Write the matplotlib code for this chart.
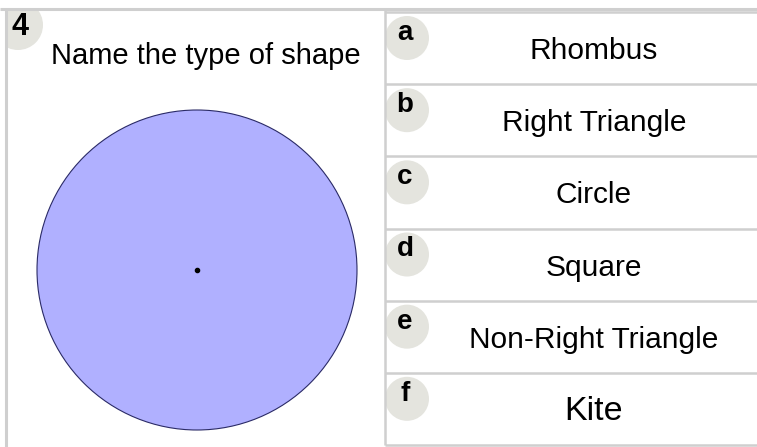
import matplotlib
matplotlib.use("Agg")
import matplotlib.pyplot as plt
from matplotlib.patches import Circle, Rectangle

plt.rcParams['font.family'] = ['Liberation Sans', 'DejaVu Sans']

question_number = "4"
question_text = "Name the type of shape"
letters = ["a", "b", "c", "d", "e", "f"]
options = ["Rhombus", "Right Triangle", "Circle", "Square", "Non-Right Triangle", "Kite"]
option_sizes = [21.5, 21.5, 21.5, 21.5, 21.5, 24.5]

W, H = 757, 447
line_col = "#cfcfcf"
badge_col = "#e4e4de"

fig = plt.figure(figsize=(W / 100, H / 100), dpi=100)
ax = fig.add_axes([0, 0, 1, 1])
ax.set_xlim(0, W)
ax.set_ylim(H, 0)
ax.axis("off")

# left panel
left, top, split = 5.5, 8.5, 385
panel = Rectangle((left, top), split - left, H - top, facecolor="white", edgecolor="none")
ax.add_patch(panel)
badge = Circle((18, 25), 25, facecolor=badge_col, edgecolor="none")
ax.add_patch(badge)
badge.set_clip_path(panel)
ax.text(20, 27, question_number, ha="center", va="center", fontsize=22, fontweight="bold")
ax.text(206, 56, question_text, ha="center", va="center", fontsize=21)

shape = Circle((197, 270), 160, facecolor="#b0b0ff", edgecolor="#2a2a66", linewidth=0.8)
ax.add_patch(shape)
ax.plot(197, 270, "o", color="black", markersize=3)

# outer borders
ax.plot([0, W], [top, top], color=line_col, linewidth=2.2, solid_capstyle="butt")
ax.plot([left, left], [top, H], color=line_col, linewidth=2.2, solid_capstyle="butt")
ax.plot([split, split], [top, 445], color=line_col, linewidth=1.8, solid_capstyle="butt")

# answer rows
row_top, row_bot = 12, 445
n = len(options)
step = (row_bot - row_top) / n
for i, (let, opt, fs) in enumerate(zip(letters, options, option_sizes)):
    y0 = row_top + i * step
    ax.plot([split, W], [y0, y0], color=line_col, linewidth=1.8, solid_capstyle="butt")
    ax.add_patch(Circle((407, y0 + 26), 22, facecolor=badge_col, edgecolor="none"))
    ax.text(405, y0 + 21, let, ha="center", va="center", fontsize=20, fontweight="bold")
    ax.text(594, y0 + step / 2 + 3, opt, ha="center", va="center", fontsize=fs)
ax.plot([split, W], [row_bot, row_bot], color=line_col, linewidth=1.8, solid_capstyle="butt")

fig.savefig("out.png", dpi=100)
